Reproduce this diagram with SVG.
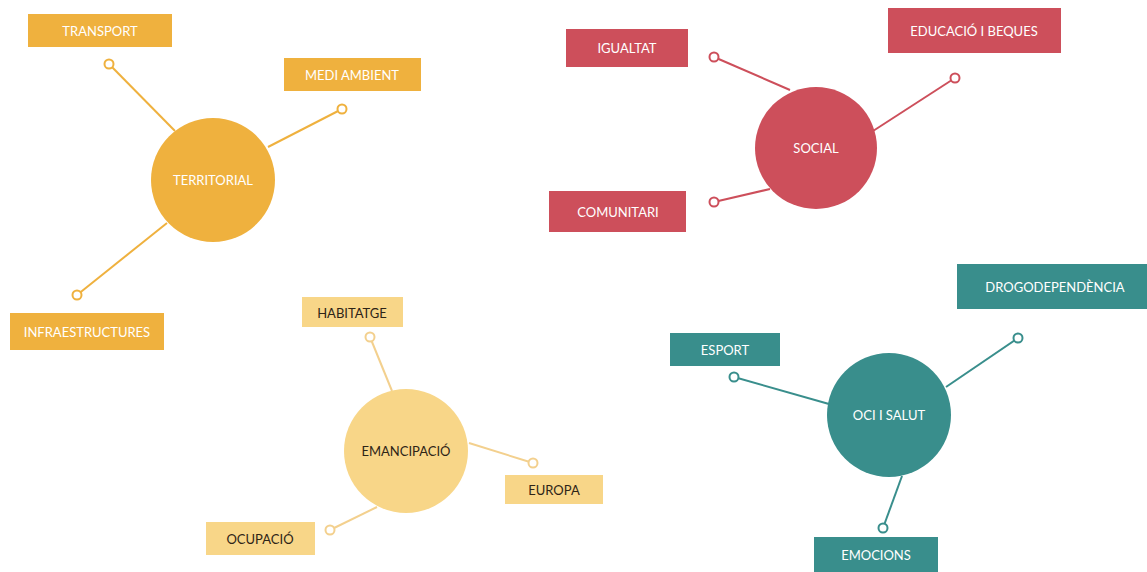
<svg xmlns="http://www.w3.org/2000/svg" width="1147" height="572" viewBox="0 0 1147 572">
<style>
text{font-family:Lato,"Open Sans","Liberation Sans",sans-serif;font-size:13px;text-anchor:middle;dominant-baseline:central}
.w{fill:#ffffff}
.d{fill:#2e2417}
.or{fill:#EFB13E}
.ye{fill:#F8D688}
.re{fill:#CD4F5B}
.te{fill:#398E8C}
.lor{stroke:#EFB13E}
.lye{stroke:#F3D08E}
.lre{stroke:#CD4F5B}
.lte{stroke:#398E8C}
line{stroke-width:2}
.dot{fill:#ffffff;stroke-width:2}
</style>
<rect width="1147" height="572" fill="#ffffff"/>
<g id="connectors">
<line class="lor" x1="109" y1="64" x2="175" y2="131"/>
<line class="lor" x1="342" y1="109" x2="268" y2="147"/>
<line class="lor" x1="77" y1="295" x2="167" y2="223"/>
<line class="lre" x1="714" y1="57" x2="790" y2="90"/>
<line class="lre" x1="955" y1="78" x2="873" y2="131"/>
<line class="lre" x1="714" y1="202" x2="770" y2="189"/>
<line class="lye" x1="370" y1="337" x2="392" y2="391"/>
<line class="lye" x1="533" y1="463" x2="469" y2="443"/>
<line class="lye" x1="330" y1="530" x2="377" y2="507"/>
<line class="lte" x1="734" y1="377" x2="829" y2="404"/>
<line class="lte" x1="1018" y1="338" x2="946" y2="387"/>
<line class="lte" x1="883" y1="528" x2="902" y2="476"/>
<circle class="dot lor" cx="109" cy="64" r="4.5"/>
<circle class="dot lor" cx="342" cy="109" r="4.5"/>
<circle class="dot lor" cx="77" cy="295" r="4.5"/>
<circle class="dot lre" cx="714" cy="57" r="4.5"/>
<circle class="dot lre" cx="955" cy="78" r="4.5"/>
<circle class="dot lre" cx="714" cy="202" r="4.5"/>
<circle class="dot lye" cx="370" cy="337" r="4.5"/>
<circle class="dot lye" cx="533" cy="463" r="4.5"/>
<circle class="dot lye" cx="330" cy="530" r="4.5"/>
<circle class="dot lte" cx="734" cy="377" r="4.5"/>
<circle class="dot lte" cx="1018" cy="338" r="4.5"/>
<circle class="dot lte" cx="883" cy="528" r="4.5"/>
</g>
<g id="territorial"><circle class="or" cx="213" cy="180" r="62"/><text class="w" x="213" y="180">TERRITORIAL</text></g>
<g id="transport"><rect class="or" x="28" y="14" width="144" height="33"/><text class="w" x="100" y="31">TRANSPORT</text></g>
<g id="medi-ambient"><rect class="or" x="284" y="58" width="137" height="33"/><text class="w" x="352" y="75">MEDI AMBIENT</text></g>
<g id="infraestructures"><rect class="or" x="10" y="313" width="154" height="37"/><text class="w" x="87" y="332">INFRAESTRUCTURES</text></g>
<g id="social"><circle class="re" cx="816" cy="148" r="61"/><text class="w" x="816" y="148">SOCIAL</text></g>
<g id="igualtat"><rect class="re" x="566" y="29" width="122" height="38"/><text class="w" x="627" y="48">IGUALTAT</text></g>
<g id="educacio"><rect class="re" x="888" y="8" width="173" height="45"/><text class="w" x="974" y="31">EDUCACIÓ I BEQUES</text></g>
<g id="comunitari"><rect class="re" x="549" y="191" width="137" height="41"/><text class="w" x="618" y="212">COMUNITARI</text></g>
<g id="emancipacio"><circle class="ye" cx="406" cy="451" r="62"/><text class="d" x="406" y="451">EMANCIPACIÓ</text></g>
<g id="habitatge"><rect class="ye" x="302" y="297" width="101" height="30"/><text class="d" x="352" y="313">HABITATGE</text></g>
<g id="europa"><rect class="ye" x="505" y="475" width="98" height="29"/><text class="d" x="554" y="490">EUROPA</text></g>
<g id="ocupacio"><rect class="ye" x="206" y="522" width="109" height="33"/><text class="d" x="260" y="539">OCUPACIÓ</text></g>
<g id="oci-salut"><circle class="te" cx="889" cy="415" r="62"/><text class="w" x="889" y="415">OCI I SALUT</text></g>
<g id="drogodependencia"><rect class="te" x="957" y="264" width="190" height="45"/><text class="w" x="1055" y="287">DROGODEPENDÈNCIA</text></g>
<g id="esport"><rect class="te" x="670" y="333" width="110" height="33"/><text class="w" x="725" y="350">ESPORT</text></g>
<g id="emocions"><rect class="te" x="814" y="537" width="124" height="35"/><text class="w" x="876" y="555">EMOCIONS</text></g>
</svg>
